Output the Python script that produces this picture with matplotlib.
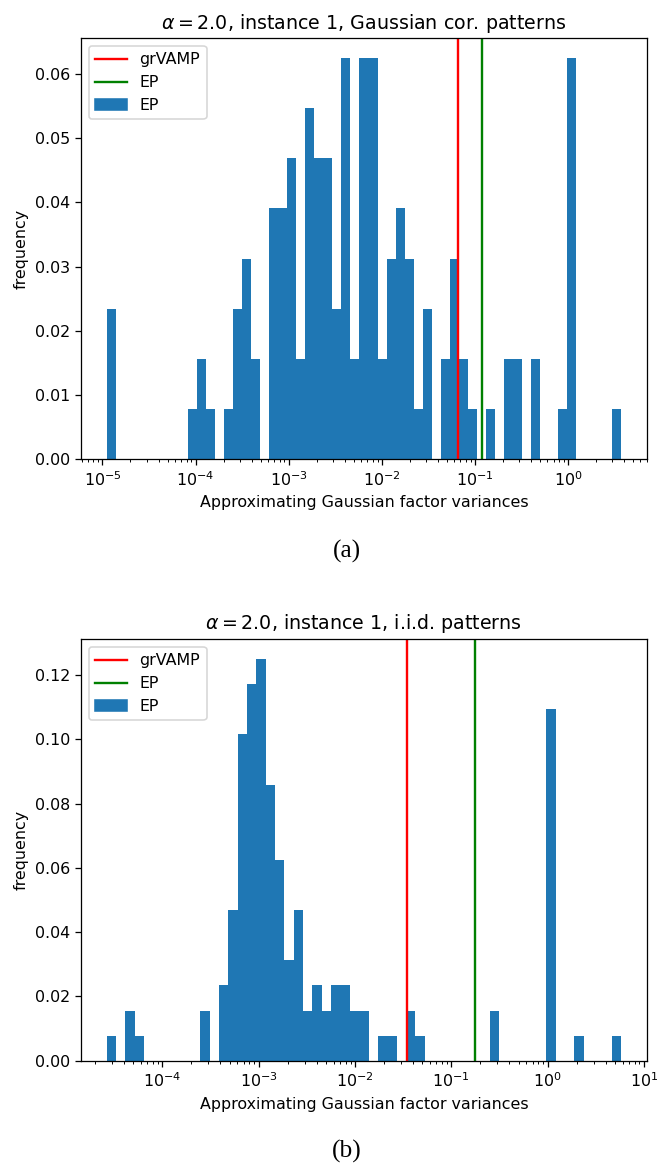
import numpy as np
import matplotlib
matplotlib.use("Agg")
import matplotlib.pyplot as plt
from matplotlib.lines import Line2D

# number of samples per instance (frequencies are counts / n_samples)
n_samples = 128

# panel (a): Gaussian correlated patterns, 57 log-spaced bins
log_range_a = (-4.954, 0.572)
counts_a = [3, 0, 0, 0, 0, 0, 0, 0, 0, 1, 2, 1, 0, 1, 3, 4, 2, 0, 5, 5,
            6, 2, 7, 6, 6, 3, 8, 2, 8, 8, 2, 4, 5, 4, 1, 3, 0, 2, 4, 2,
            1, 0, 1, 0, 2, 2, 0, 2, 0, 0, 1, 8, 0, 0, 0, 0, 1]
grvamp_a = 0.0658
ep_a = 0.119

# panel (b): i.i.d. patterns, 55 log-spaced bins
log_range_b = (-4.577, 0.762)
counts_b = [1, 0, 2, 1, 0, 0, 0, 0, 0, 0, 2, 0, 3, 6, 13, 15, 16, 11, 8, 4,
            6, 2, 3, 2, 3, 3, 2, 2, 0, 1, 1, 0, 2, 1, 0, 0, 0, 0, 0, 0,
            0, 2, 0, 0, 0, 0, 0, 14, 0, 0, 1, 0, 0, 0, 1]
grvamp_b = 0.0347
ep_b = 0.1745

titles = [r"$\alpha = 2.0$, instance 1, Gaussian cor. patterns",
          r"$\alpha = 2.0$, instance 1, i.i.d. patterns"]
captions = ["(a)", "(b)"]

dpi = 114
fig = plt.figure(figsize=(658 / dpi, 1166 / dpi), dpi=dpi)

boxes = [[0.1231, 0.6063, 0.8602, 0.3611],
         [0.1231, 0.0903, 0.8597, 0.3617]]

panels = [(log_range_a, counts_a, grvamp_a, ep_a),
          (log_range_b, counts_b, grvamp_b, ep_b)]

for i, (lr, counts, v_gr, v_ep) in enumerate(panels):
    ax = fig.add_axes(boxes[i])
    counts = np.array(counts, dtype=float)
    edges = np.logspace(lr[0], lr[1], len(counts) + 1)
    centers = np.sqrt(edges[:-1] * edges[1:])

    ax.hist(centers, bins=edges, weights=counts / n_samples, color="C0")
    ax.set_xscale("log")
    ax.axvline(v_gr, color="red")
    ax.axvline(v_ep, color="green")

    handles = [Line2D([], [], color="red", label="grVAMP"),
               Line2D([], [], color="green", label="EP"),
               plt.Rectangle((0, 0), 1, 1, color="C0", label="EP")]
    ax.legend(handles=handles, loc="upper left")

    ax.set_title(titles[i])
    ax.set_xlabel("Approximating Gaussian factor variances")
    ax.set_ylabel("frequency")

# captions below each panel, set in a serif face like the document text
fig.text(0.527, 1 - 551 / 1166, captions[0], ha="center", va="center",
         fontsize=16, family="Liberation Serif")
fig.text(0.527, 1 - 1151 / 1166, captions[1], ha="center", va="center",
         fontsize=16, family="Liberation Serif")

fig.savefig("out.png", dpi=dpi)
